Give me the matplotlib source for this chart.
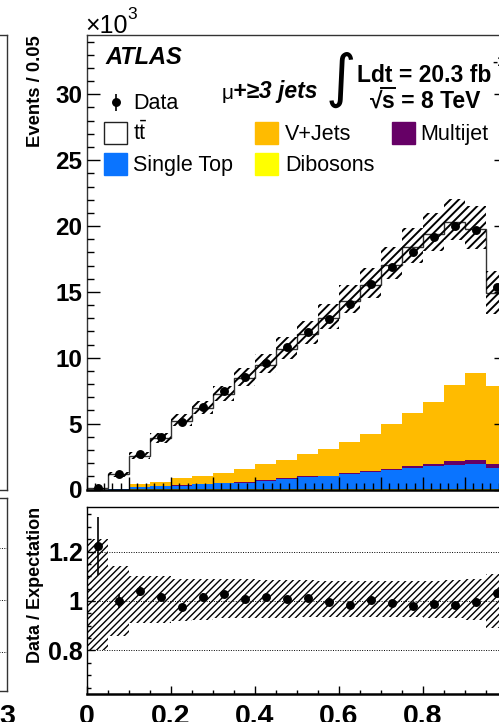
import numpy as np
import matplotlib
matplotlib.use('Agg')
import matplotlib.pyplot as plt
from matplotlib.patches import Rectangle
from matplotlib.ticker import MultipleLocator, FuncFormatter

plt.rcParams['font.family'] = ['Liberation Sans', 'DejaVu Sans']
plt.rcParams['mathtext.fontset'] = 'custom'
plt.rcParams['mathtext.rm'] = 'Liberation Sans'
plt.rcParams['mathtext.it'] = 'Liberation Sans:italic'
plt.rcParams['mathtext.bf'] = 'Liberation Sans:bold'

W, H = 499, 722

# 20 bins of width 0.05 on [0, 1]
bin_width = 0.05
n_bins = 20

# yields in thousands of events per bin
data_k = [0.11, 1.14, 2.66, 3.95, 5.10, 6.30, 7.44, 8.53, 9.64, 10.78,
          11.94, 12.98, 14.10, 15.60, 16.90, 18.00, 19.20, 20.00, 19.70, 15.40]
ttbar_k = [0.09, 1.11, 2.16, 3.31, 4.39, 5.20, 5.97, 6.92, 7.55, 8.43,
           9.13, 9.92, 10.74, 11.29, 12.08, 12.57, 12.77, 12.43, 10.88, 7.12]
vjets_k = [0.00, 0.02, 0.19, 0.29, 0.53, 0.60, 0.79, 1.00, 1.23, 1.41,
           1.65, 2.05, 2.35, 2.86, 3.43, 4.03, 4.69, 5.77, 6.65, 5.87]
multijet_k = [0.00, 0.00, 0.01, 0.01, 0.01, 0.01, 0.02, 0.02, 0.03, 0.04,
              0.05, 0.05, 0.06, 0.07, 0.09, 0.12, 0.22, 0.26, 0.28, 0.33]
single_top_k = [0.00, 0.01, 0.19, 0.27, 0.29, 0.37, 0.44, 0.50, 0.64, 0.78,
                0.93, 0.98, 1.16, 1.28, 1.43, 1.61, 1.70, 1.82, 1.90, 1.58]
diboson_k = [0.00, 0.00, 0.01, 0.01, 0.01, 0.01, 0.02, 0.02, 0.02, 0.02,
             0.03, 0.03, 0.03, 0.04, 0.04, 0.04, 0.05, 0.05, 0.05, 0.04]

# relative systematic uncertainty on the total expectation
syst_up = [0.25, 0.14, 0.10, 0.10, 0.09, 0.09, 0.09, 0.09, 0.085, 0.085,
           0.085, 0.08, 0.08, 0.08, 0.08, 0.08, 0.08, 0.085, 0.09, 0.11]
syst_dn = [0.20, 0.14, 0.09, 0.09, 0.08, 0.075, 0.07, 0.07, 0.07, 0.07,
           0.065, 0.065, 0.065, 0.065, 0.065, 0.065, 0.07, 0.07, 0.075, 0.11]

C_TTBAR = 'white'
C_VJETS = '#ffbb00'
C_MULTIJET = '#660066'
C_SINGLETOP = '#0a74ff'
C_DIBOSON = '#ffff00'

edges = np.arange(n_bins + 1) * bin_width
centers = edges[:-1] + bin_width / 2

# stack order bottom -> top
stack = [
    (np.array(diboson_k), C_DIBOSON),
    (np.array(single_top_k), C_SINGLETOP),
    (np.array(multijet_k), C_MULTIJET),
    (np.array(vjets_k), C_VJETS),
    (np.array(ttbar_k), C_TTBAR),
]
data = np.array(data_k)
total = sum(s for s, _ in stack)
up = np.array(syst_up)
dn = np.array(syst_dn)
data_err = np.sqrt(data * 1000.0) / 1000.0


def box(left, top, right, bottom):
    """Axes rectangle from pixel edges (origin top-left)."""
    return [left / W, 1 - bottom / H, (right - left) / W, (bottom - top) / H]


def hatched_band(axis, x, lo, hi, pattern, lw):
    with plt.rc_context({'hatch.linewidth': lw}):
        bars = axis.bar(x, hi - lo, bottom=lo, width=bin_width, fill=False,
                        hatch=pattern, edgecolor='black', linewidth=0, zorder=3)
        for p in bars:
            if hasattr(p, 'set_hatch_linewidth'):
                p.set_hatch_linewidth(lw)
    return bars


fig = plt.figure(figsize=(W / 100, H / 100), dpi=100)

ax = fig.add_axes(box(87, 35, 507, 489.5))
rax = fig.add_axes(box(87, 507, 507, 694))
# neighbouring panels, only their right edge is in view
lax = fig.add_axes(box(-300, 35, 6.5, 490))
lrax = fig.add_axes(box(-300, 498, 6.5, 691))

# ---- main panel: stacked backgrounds ----
base = np.zeros(n_bins)
for vals, col in stack:
    ax.stairs(base + vals, edges, baseline=base, fill=True, color=col,
              linewidth=0, zorder=1)
    base = base + vals
ax.stairs(total, edges, baseline=None, color='#333333', linewidth=1.0, zorder=2)

hatched_band(ax, centers, total * (1 - dn), total * (1 + up), '////', 1.4)

ax.errorbar(centers, data, yerr=data_err, fmt='o', color='black', ms=5.4,
            elinewidth=1.2, capsize=0, zorder=5)

ax.set_xlim(0, 1)
ax.set_ylim(0, 34.5)
ax.xaxis.set_major_locator(MultipleLocator(0.1))
ax.xaxis.set_minor_locator(MultipleLocator(0.02))
ax.yaxis.set_major_locator(MultipleLocator(5))
ax.yaxis.set_minor_locator(MultipleLocator(1))
ax.tick_params(which='both', direction='in', top=False, right=True, labelbottom=False)
ax.tick_params(which='major', length=9.5, width=1.0)
ax.tick_params(which='minor', length=4.8, width=1.0)
ax.tick_params(axis='y', labelsize=17.5, pad=3.5)
for t in ax.get_yticklabels():
    t.set_fontweight('bold')
ax.set_axisbelow(False)
for s in ax.spines.values():
    s.set_linewidth(1.0)
    s.set_color('#333333')
ax.spines['bottom'].set_linewidth(1.8)
ax.spines['bottom'].set_color('black')

# ---- ratio panel ----
ratio = data / total
ratio_err = data_err / total
for yv in (0.8, 1.0, 1.2):
    rax.axhline(yv, color='black', linestyle=(0, (1, 1.5)), linewidth=0.7, zorder=0)
hatched_band(rax, centers, 1 - dn, 1 + up, '/////', 1.0)
rax.errorbar(centers, ratio, yerr=ratio_err, fmt='o', color='black', ms=5.4,
             elinewidth=1.2, capsize=0, zorder=5)

rax.set_xlim(0, 1)
rax.set_ylim(0.624, 1.38)
rax.xaxis.set_major_locator(MultipleLocator(0.2))
rax.xaxis.set_minor_locator(MultipleLocator(0.05))
rax.yaxis.set_major_locator(MultipleLocator(0.2))
rax.yaxis.set_minor_locator(MultipleLocator(0.05))
fmt = FuncFormatter(lambda v, pos: '%g' % round(v, 3))
rax.xaxis.set_major_formatter(fmt)
rax.yaxis.set_major_formatter(fmt)
rax.tick_params(which='both', direction='in', top=False, right=True)
rax.tick_params(which='major', length=5.8, width=1.0)
rax.tick_params(which='minor', length=3.0, width=1.0)
rax.tick_params(axis='y', labelsize=18, pad=3.0)
rax.tick_params(axis='x', labelsize=20.5, pad=7.0)
for t in rax.get_yticklabels() + rax.get_xticklabels():
    t.set_fontweight('bold')
for s in rax.spines.values():
    s.set_linewidth(1.0)
rax.spines['bottom'].set_linewidth(1.8)

# ---- neighbouring panels ----
for a in (lax, lrax):
    a.set_xticks([])
    a.set_yticks([])
    for s in a.spines.values():
        s.set_linewidth(1.0)
        s.set_color('#333333')
lrax.set_ylim(0.65, 1.39)
for yv in (0.8, 1.0, 1.2):
    lrax.axhline(yv, color='black', linestyle=(0, (1, 1.5)), linewidth=0.7)

# ---- labels, legend and annotations in pixel coordinates ----
ov = fig.add_axes([0, 0, 1, 1])
ov.set_xlim(0, W)
ov.set_ylim(H, 0)
ov.axis('off')

ov.text(36, 35, 'Events / 0.05', rotation=90, ha='center', va='top',
        fontsize=13.3, fontweight='bold')
ov.text(36, 507, 'Data / Expectation', rotation=90, ha='center', va='top',
        fontsize=13, fontweight='bold')
ov.text(85, 33, '×10', fontsize=18, va='baseline')
ov.text(127, 19, '3', fontsize=12.5, va='baseline')
ov.text(-1, 704, '3', fontsize=20.5, fontweight='bold', va='top', ha='left')

ov.text(105, 64, 'ATLAS', fontsize=17, fontweight='bold', style='italic',
        va='baseline')

ov.text(222, 99, 'μ', fontsize=15, va='baseline')
ov.text(233, 98, '+≥3 jets', fontsize=16.5, fontweight='bold', style='italic',
        va='baseline')
ov.text(341, 96, '∫', fontsize=42, family='DejaVu Sans', va='baseline', ha='center')
ov.text(357, 82, 'Ldt = 20.3 fb', fontsize=16.5, fontweight='bold', va='baseline')
ov.text(492, 66, '-1', fontsize=11, fontweight='bold', va='baseline')
ov.text(370, 108, '√', fontsize=16.5, fontweight='bold', va='baseline')
ov.plot([381, 395], [87.5, 87.5], color='black', linewidth=1.4)
ov.text(382, 108, 's = 8 TeV', fontsize=16.5, fontweight='bold', va='baseline')

# legend
ov.errorbar([116], [102], yerr=[[8], [9]], fmt='o', color='black', ms=5.4,
            elinewidth=1.2, capsize=0)
ov.text(133, 109, 'Data', fontsize=15.5, va='baseline')
legend_boxes = [
    (104, 122, C_TTBAR, 't$\\bar{\\mathrm{t}}$', 133, 144),
    (104, 153, C_SINGLETOP, 'Single Top', 133, 175),
    (255, 122, C_VJETS, 'V+Jets', 285, 144),
    (392, 122, C_MULTIJET, 'Multijet', 420, 144),
    (255, 153, C_DIBOSON, 'Dibosons', 285, 175),
]
for bx, by, col, label, tx, ty in legend_boxes:
    ec = '#222222' if col == C_TTBAR else col
    ov.add_patch(Rectangle((bx, by), 23, 22, facecolor=col, edgecolor=ec,
                           linewidth=1.0))
    ov.text(tx, ty - 4, label, fontsize=15.5, va='baseline')

fig.savefig('out.png', dpi=100)
